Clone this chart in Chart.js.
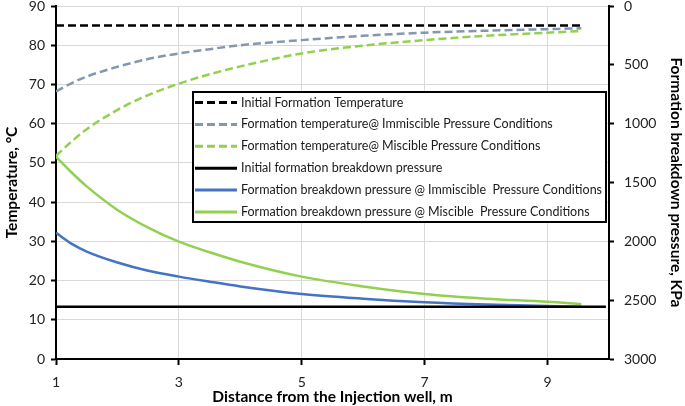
<!DOCTYPE html>
<html>
<head>
<meta charset="utf-8">
<script src="https://cdn.jsdelivr.net/npm/chart.js@4.4.1/dist/chart.umd.min.js"></script>
<style>
  html, body { margin: 0; padding: 0; background: #fff; }
  #wrap { width: 685px; height: 406px; }
</style>
</head>
<body>
<div id="wrap"><canvas id="chart" width="685" height="406"></canvas></div>
<script>
// distance from the injection well, m
const distance = [1, 1.25, 1.5, 2, 2.5, 3, 3.5, 4, 5, 6, 7, 8, 9, 9.55];

// temperatures, °C (left axis)
const tempImmiscible = [68.2, 70.3, 72.0, 74.5, 76.5, 77.9, 79.0, 80.0, 81.3, 82.4, 83.2, 83.7, 84.1, 84.3];
const tempMiscible = [51.8, 55.4, 58.6, 63.5, 67.3, 70.2, 72.6, 74.6, 77.9, 79.9, 81.3, 82.4, 83.2, 83.6];
const initialTemp = 85;
const initialTempX = [1, 9.55];

// breakdown pressures, KPa (right axis, reversed)
const pressImmiscible = [1927, 2020, 2087, 2180, 2250, 2300, 2343, 2383, 2447, 2487, 2517, 2537, 2550, 2557];
const pressMiscible = [1280, 1413, 1533, 1733, 1883, 2003, 2093, 2173, 2300, 2383, 2447, 2487, 2513, 2533];
const initialBreakdown = 2557;
const initialBreakdownX = [1, 9.95];

const xTicks = [1, 3, 5, 7, 9];

const toPoints = (xs, ys) => xs.map((x, i) => ({ x: x, y: ys[i] }));
const flat = (xs, v) => xs.map((x) => ({ x: x, y: v }));

const tickFont = { family: "Lato", size: 14 };
const titleFont = { family: "Lato", size: 15.5, weight: "bold" };

// legend drawn as a framed box inside the plot
const boxLegend = {
  id: "boxLegend",
  afterDatasetsDraw(chart) {
    const { ctx, chartArea } = chart;
    const left = chartArea.left + 137;
    const top = chartArea.top + 86;
    const w = 413;
    const h = 130;
    ctx.save();
    ctx.fillStyle = "#fff";
    ctx.fillRect(left, top, w, h);
    ctx.lineWidth = 2;
    ctx.strokeStyle = "#000";
    ctx.strokeRect(left, top, w, h);
    ctx.font = "12.5px Lato";
    ctx.textBaseline = "middle";
    chart.data.datasets.forEach((ds, i) => {
      const y = top + 10.5 + i * 21.9;
      ctx.beginPath();
      ctx.setLineDash(ds.borderDash || []);
      ctx.strokeStyle = ds.borderColor;
      ctx.lineWidth = 3;
      ctx.moveTo(left + 2, y);
      ctx.lineTo(left + 44, y);
      ctx.stroke();
      ctx.setLineDash([]);
      ctx.fillStyle = "#1a1a1a";
      ctx.fillText(ds.label, left + 48, y);
    });
    ctx.restore();
  },
};

const noVertPad = (axis) => {
  axis.paddingTop = 0;
  axis.paddingBottom = 0;
};

const ctx = document.getElementById("chart");

new Chart(ctx, {
  type: "line",
  data: {
    datasets: [
      {
        label: "Initial Formation Temperature",
        data: flat(initialTempX, initialTemp),
        yAxisID: "y",
        borderColor: "#000000",
        borderWidth: 2.5,
        borderDash: [8, 4],
      },
      {
        label: "Formation temperature@ Immiscible Pressure Conditions",
        data: toPoints(distance, tempImmiscible),
        yAxisID: "y",
        borderColor: "#8497B0",
        borderWidth: 2.5,
        borderDash: [8, 4],
      },
      {
        label: "Formation temperature@ Miscible Pressure Conditions",
        data: toPoints(distance, tempMiscible),
        yAxisID: "y",
        borderColor: "#92D050",
        borderWidth: 2.5,
        borderDash: [8, 4],
      },
      {
        label: "Initial formation breakdown pressure",
        data: flat(initialBreakdownX, initialBreakdown),
        yAxisID: "y2",
        borderColor: "#000000",
        borderWidth: 2.5,
      },
      {
        label: "Formation breakdown pressure @ Immiscible  Pressure Conditions",
        data: toPoints(distance, pressImmiscible),
        yAxisID: "y2",
        borderColor: "#4472C4",
        borderWidth: 2.5,
      },
      {
        label: "Formation breakdown pressure @ Miscible  Pressure Conditions",
        data: toPoints(distance, pressMiscible),
        yAxisID: "y2",
        borderColor: "#92D050",
        borderWidth: 2.5,
      },
    ],
  },
  options: {
    responsive: false,
    animation: false,
    elements: {
      point: { radius: 0 },
      line: { cubicInterpolationMode: "monotone", fill: false },
    },
    layout: { padding: { top: 6, left: 0, right: 0, bottom: 0 } },
    plugins: {
      legend: { display: false },
      tooltip: { enabled: false },
    },
    scales: {
      x: {
        type: "linear",
        min: 1,
        max: 10,
        afterBuildTicks: (axis) => {
          axis.ticks = xTicks.map((v) => ({ value: v }));
        },
        afterFit: (axis) => {
          axis.height = 47;
        },
        grid: {
          color: "#d9d9d9",
          tickColor: "#000",
          tickLength: 6,
          tickWidth: 2,
        },
        border: { color: "#000", width: 2 },
        ticks: { font: tickFont, color: "#222", padding: 9, maxRotation: 0 },
        title: {
          display: true,
          text: "Distance from the Injection well, m",
          font: titleFont,
          color: "#000",
          padding: { top: 0, bottom: 0 },
        },
      },
      y: {
        position: "left",
        min: 0,
        max: 90,
        ticks: { stepSize: 10, font: tickFont, color: "#222", padding: 6 },
        afterFit: (axis) => {
          axis.width = 56;
          noVertPad(axis);
        },
        grid: {
          color: "#d9d9d9",
          tickColor: "#000",
          tickLength: 5,
          tickWidth: 2,
        },
        border: { color: "#000", width: 2 },
        title: {
          display: true,
          text: "Temperature, °C",
          font: titleFont,
          color: "#000",
          padding: { top: 3, bottom: 0 },
        },
      },
      y2: {
        position: "right",
        reverse: true,
        min: 0,
        max: 3000,
        ticks: {
          stepSize: 500,
          font: tickFont,
          color: "#222",
          padding: 10,
          callback: (v) => String(v),
        },
        afterFit: (axis) => {
          axis.width = 76;
          noVertPad(axis);
        },
        grid: {
          drawOnChartArea: false,
          tickColor: "#000",
          tickLength: 5,
          tickWidth: 2,
        },
        border: { color: "#000", width: 2 },
        title: {
          display: true,
          text: "Formation breakdown pressure, KPa",
          font: titleFont,
          color: "#000",
          padding: { top: 0, bottom: 0 },
        },
      },
    },
  },
  plugins: [boxLegend],
});
</script>
</body>
</html>
